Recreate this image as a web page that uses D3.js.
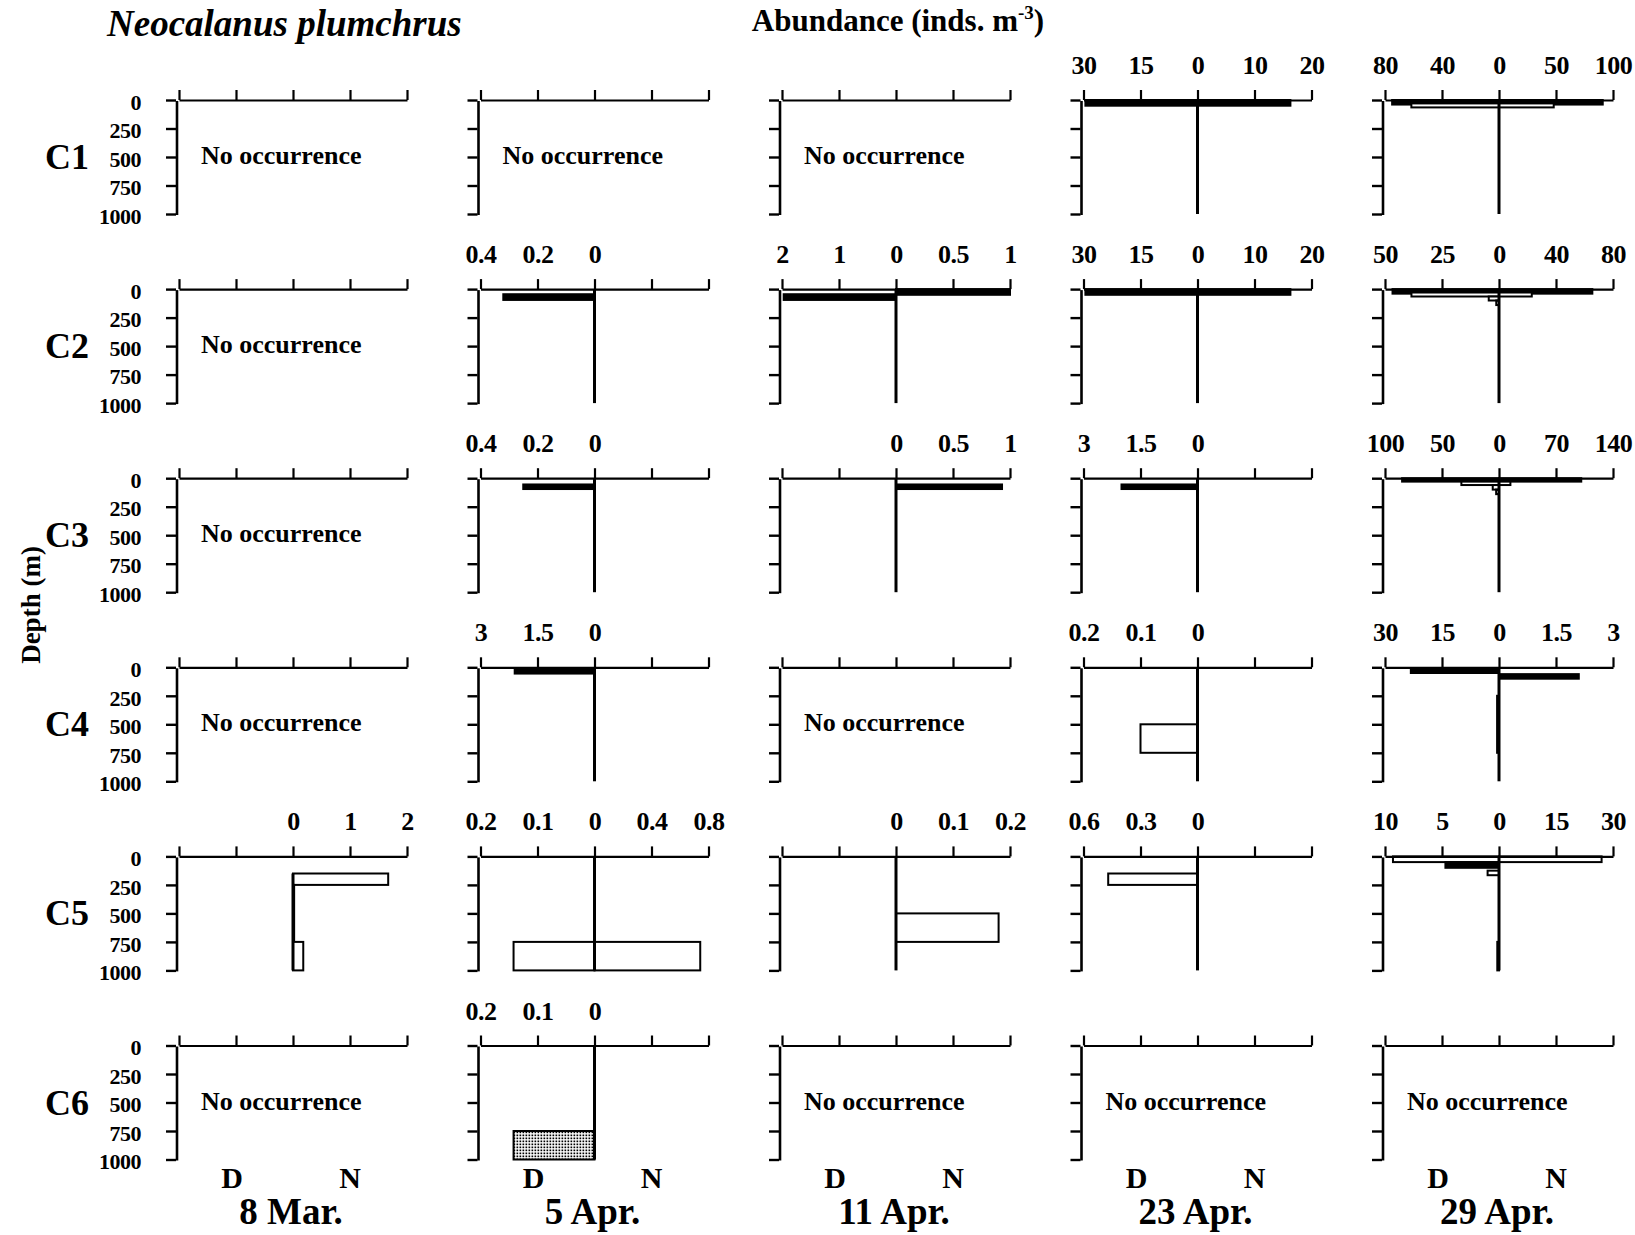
<!DOCTYPE html>
<html><head><meta charset="utf-8">
<script src="https://cdn.jsdelivr.net/npm/d3@7"></script>
<style>
body{margin:0;background:#fff;}
svg{display:block;}
text{font-family:'Liberation Serif','Times New Roman',serif;font-weight:bold;fill:#000;}
</style></head><body>
<svg id="chart" width="1635" height="1235"></svg>
<script>
// ---------------- data ----------------
const stages = ['C1','C2','C3','C4','C5','C6'];
const dates = ['8 Mar.','5 Apr.','11 Apr.','23 Apr.','29 Apr.'];
const depthTicks = [0,250,500,750,1000];

// axis maxima (inds. m-3) for day (left) and night (right) halves; null = unlabelled
const dayMax = [
  [null, null, null, 30, 80],
  [null, 0.4,  2,    30, 50],
  [null, 0.4,  null, 3,  100],
  [null, 3,    null, 0.2, 30],
  [null, 0.2,  null, 0.6, 10],
  [null, 0.2,  null, null, null]
];
const nightMax = [
  [null, null, null, 20, 100],
  [null, null, 1,    20, 80],
  [null, null, 1,    null, 140],
  [null, null, null, null, 3],
  [2,    0.8,  0.2,  null, 30],
  [null, null, null, null, null]
];

// bars: [date, D/N, top depth, bottom depth, abundance, kind]  kind: S = solid, O = open, P = dotted
const barsC1 = [
  ['23 Apr.','D',0,50,29.5,'S'], ['23 Apr.','N',0,50,16.3,'S'],
  ['29 Apr.','D',0,40,75,'S'],   ['29 Apr.','N',0,40,91,'S'],
  ['29 Apr.','D',30,65,61.5,'O'],['29 Apr.','N',30,65,48,'O']
];
const barsC2 = [
  ['5 Apr.','D',45,95,0.32,'S'],
  ['11 Apr.','N',0,50,1.0,'S'], ['11 Apr.','D',45,95,1.97,'S'],
  ['23 Apr.','D',0,50,29.5,'S'], ['23 Apr.','N',0,50,16.3,'S'],
  ['29 Apr.','D',0,40,46.7,'S'], ['29 Apr.','N',0,40,65.5,'S'],
  ['29 Apr.','D',30,65,38.4,'O'], ['29 Apr.','N',30,65,23,'O'],
  ['29 Apr.','D',65,100,4.5,'O'], ['29 Apr.','D',100,140,1.2,'O']
];
const barsC3 = [
  ['5 Apr.','D',55,95,0.25,'S'],
  ['11 Apr.','N',55,95,0.93,'S'],
  ['23 Apr.','D',55,95,2.0,'S'],
  ['29 Apr.','D',0,30,85,'S'], ['29 Apr.','N',0,30,101,'S'],
  ['29 Apr.','D',30,60,33,'O'], ['29 Apr.','N',30,60,14,'O'],
  ['29 Apr.','D',60,100,5.5,'O'], ['29 Apr.','D',100,140,2.5,'O']
];
const barsC4 = [
  ['5 Apr.','D',15,55,2.1,'S'],
  ['23 Apr.','D',500,750,0.1,'O'],
  ['29 Apr.','D',15,50,23.2,'S'], ['29 Apr.','N',60,100,2.1,'S'],
  ['29 Apr.','D',250,750,0.5,'O']
];
const barsC5 = [
  ['8 Mar.','N',150,250,1.67,'O'], ['8 Mar.','N',250,750,0.02,'O'], ['8 Mar.','N',750,1000,0.18,'O'],
  ['5 Apr.','D',750,1000,0.142,'O'], ['5 Apr.','N',750,1000,0.742,'O'],
  ['11 Apr.','N',500,750,0.18,'O'],
  ['23 Apr.','D',150,250,0.47,'O'],
  ['29 Apr.','D',0,50,9.3,'O'], ['29 Apr.','N',0,50,27,'O'],
  ['29 Apr.','D',50,100,4.7,'S'],
  ['29 Apr.','D',125,165,1.0,'O'],
  ['29 Apr.','D',750,1000,0.15,'O']
];
const barsC6 = [
  ['5 Apr.','D',750,1000,0.142,'P']
];
const barsByStage = [barsC1, barsC2, barsC3, barsC4, barsC5, barsC6];
// panels whose zero line starts below the surface (m)
const zeroLineStart = {'C5|8 Mar.': 150};

// ---------------- drawing ----------------
const svg = d3.select('#chart');
const defs = svg.append('defs');
const pat = defs.append('pattern').attr('id','dots').attr('patternUnits','userSpaceOnUse')
  .attr('width',3).attr('height',3);
pat.append('rect').attr('width',3).attr('height',3).attr('fill','#fff');
pat.append('rect').attr('x',0.5).attr('y',0.5).attr('width',1.7).attr('height',1.7).attr('fill','#000');

const W = 228, H = 114;
const colScale = d3.scalePoint().domain(dates).range([179, 1385]);
const rowScale = d3.scalePoint().domain(stages).range([100, 1045.5]);
const fillScale = d3.scaleOrdinal().domain(['S','O','P']).range(['#000','#fff','url(#dots)']);
const fmt = v => String(+v.toFixed(3));

// title & axis titles
svg.append('text').attr('x',107).attr('y',36).attr('font-size',37).attr('font-style','italic')
  .text('Neocalanus plumchrus');
const ab = svg.append('text').attr('x',898).attr('y',31).attr('font-size',31).attr('text-anchor','middle');
ab.append('tspan').text('Abundance (inds. m');
ab.append('tspan').attr('font-size',19).attr('dy',-12).text('-3');
ab.append('tspan').attr('dy',12).text(')');
svg.append('text').attr('transform','translate(40,605) rotate(-90)').attr('text-anchor','middle')
  .attr('font-size',27).text('Depth (m)');

stages.forEach((st, r) => {
  const y0 = rowScale(st);
  const y = d3.scaleLinear().domain([0,1000]).range([y0, y0 + H]);
  svg.append('text').attr('x',45).attr('y', y0 + H/2 + 12).attr('font-size',36).text(st);

  dates.forEach((dt, c) => {
    const x0 = colScale(dt);
    const dm = dayMax[r][c], nm = nightMax[r][c];
    const dmax = dm || 1, nmax = nm || 1;
    const x = d3.scaleLinear().domain([-dmax, 0, nmax]).range([x0, x0 + W/2, x0 + W]);
    const g = svg.append('g');
    const bars = barsByStage[r].filter(b => b[0] === dt);

    // bars
    g.selectAll('rect.bar').data(bars).join('rect').attr('class','bar')
      .attr('x', b => b[1] === 'D' ? x(-b[4]) : x(0))
      .attr('width', b => b[1] === 'D' ? x(0) - x(-b[4]) : x(b[4]) - x(0))
      .attr('y', b => y(b[2]))
      .attr('height', b => y(b[3]) - y(b[2]))
      .attr('fill', b => fillScale(b[5]))
      .attr('stroke','#000').attr('stroke-width',2);

    // top axis
    const xa = d3.axisTop(x)
      .tickValues([-dmax, -dmax/2, 0, nmax/2, nmax])
      .tickSize(10).tickSizeOuter(0).tickPadding(16)
      .tickFormat(v => {
        if (v < 0) return dm ? fmt(-v) : '';
        if (v > 0) return nm ? fmt(v) : '';
        return (dm || nm) ? '0' : '';
      });
    const gx = g.append('g').attr('transform',`translate(0,${y0})`).call(xa);
    gx.attr('font-size',null).attr('font-family',null);
    gx.select('.domain').attr('stroke-width',2.2);
    gx.selectAll('.tick line').attr('stroke-width',2.2);
    gx.selectAll('.tick text').attr('font-size',26).attr('fill','#000').attr('letter-spacing',-0.5);

    // left axis
    const ya = d3.axisLeft(y).tickValues(depthTicks).tickSize(10).tickPadding(25)
      .tickFormat(c === 0 ? d3.format('d') : () => '');
    const gy = g.append('g').attr('transform',`translate(${x0 - 3},0)`).call(ya);
    gy.attr('font-size',null).attr('font-family',null);
    gy.select('.domain').remove();
    gy.selectAll('.tick line').attr('stroke-width',2.4);
    gy.selectAll('.tick text').attr('font-size',22).attr('dy','0.42em').attr('fill','#000').attr('letter-spacing',-0.5);
    g.append('line').attr('x1',x0 - 2).attr('x2',x0 - 2).attr('y1',y(0) + 1).attr('y2',y(1000) + 1)
      .attr('stroke','#000').attr('stroke-width',2.6);

    if (bars.length) {
      const z0 = zeroLineStart[st + '|' + dt] || 0;
      g.append('line').attr('x1',x(0)).attr('x2',x(0)).attr('y1',y(z0)).attr('y2',y(1000))
        .attr('stroke','#000').attr('stroke-width',3);
    } else {
      g.append('text').attr('x',x0 + 22).attr('y',y(500) + 7).attr('font-size',26).text('No occurrence');
    }
  });
});

// bottom labels
dates.forEach(dt => {
  const x0 = colScale(dt);
  svg.append('text').attr('x',x0 + W/4 - 4).attr('y',1188).attr('text-anchor','middle').attr('font-size',30).text('D');
  svg.append('text').attr('x',x0 + 3*W/4).attr('y',1188).attr('text-anchor','middle').attr('font-size',30).text('N');
  svg.append('text').attr('x',x0 + W/2 - 2).attr('y',1224).attr('text-anchor','middle').attr('font-size',37).text(dt);
});
</script></body></html>
